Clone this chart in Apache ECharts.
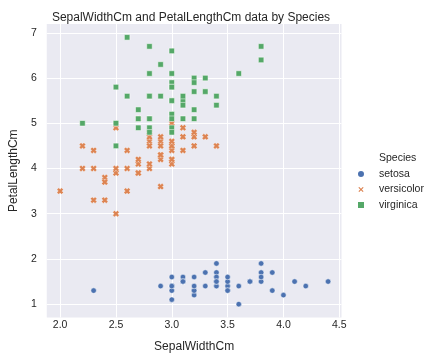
<!DOCTYPE html>
<html><head><meta charset="utf-8">
<script src="https://cdn.jsdelivr.net/npm/echarts@6/dist/echarts.min.js"></script>
<style>html,body{margin:0;padding:0;background:#fff}#c{width:433px;height:360px}</style>
</head><body><div id="c"></div>
<script>
// [SepalWidthCm, PetalLengthCm]
const setosa = [[3.5,1.4],[3.0,1.4],[3.2,1.3],[3.1,1.5],[3.6,1.4],[3.9,1.7],[3.4,1.4],[3.4,1.5],[2.9,1.4],[3.1,1.5],
[3.7,1.5],[3.4,1.6],[3.0,1.4],[3.0,1.1],[4.0,1.2],[4.4,1.5],[3.9,1.3],[3.5,1.4],[3.8,1.7],[3.8,1.5],
[3.4,1.7],[3.7,1.5],[3.6,1.0],[3.3,1.7],[3.4,1.9],[3.0,1.6],[3.4,1.6],[3.5,1.5],[3.4,1.4],[3.2,1.6],
[3.1,1.6],[3.4,1.5],[4.1,1.5],[4.2,1.4],[3.1,1.5],[3.2,1.2],[3.5,1.3],[3.1,1.5],[3.0,1.3],[3.4,1.5],
[3.5,1.3],[2.3,1.3],[3.2,1.3],[3.5,1.6],[3.8,1.9],[3.0,1.4],[3.8,1.6],[3.2,1.4],[3.7,1.5],[3.3,1.4]];
const versicolor = [[3.2,4.7],[3.2,4.5],[3.1,4.9],[2.3,4.0],[2.8,4.6],[2.8,4.5],[3.3,4.7],[2.4,3.3],[2.9,4.6],[2.7,3.9],
[2.0,3.5],[3.0,4.2],[2.2,4.0],[2.9,4.7],[2.9,3.6],[3.1,4.4],[3.0,4.5],[2.7,4.1],[2.2,4.5],[2.5,3.9],
[3.2,4.8],[2.8,4.0],[2.5,4.9],[2.8,4.7],[2.9,4.3],[3.0,4.4],[2.8,4.8],[3.0,5.0],[2.9,4.5],[2.6,3.5],
[2.4,3.8],[2.4,3.7],[2.7,3.9],[2.7,5.1],[3.0,4.5],[3.4,4.5],[3.1,4.7],[2.3,4.4],[3.0,4.1],[2.5,4.0],
[2.6,4.4],[3.0,4.6],[2.6,4.0],[2.3,3.3],[2.7,4.2],[3.0,4.2],[2.9,4.2],[2.9,4.3],[2.5,3.0],[2.8,4.1]];
const virginica = [[3.3,6.0],[2.7,5.1],[3.0,5.9],[2.9,5.6],[3.0,5.8],[3.0,6.6],[2.5,4.5],[2.9,6.3],[2.5,5.8],[3.6,6.1],
[3.2,5.1],[2.7,5.3],[3.0,5.5],[2.5,5.0],[2.8,5.1],[3.2,5.3],[3.0,5.5],[3.8,6.7],[2.6,6.9],[2.2,5.0],
[3.2,5.7],[2.8,4.9],[2.8,6.7],[2.7,4.9],[3.3,5.7],[3.2,6.0],[2.8,4.8],[3.0,4.9],[2.8,5.6],[3.0,5.8],
[2.8,6.1],[3.8,6.4],[2.8,5.6],[2.8,5.1],[2.6,5.6],[3.0,6.1],[3.4,5.6],[3.1,5.5],[3.0,4.8],[3.1,5.4],
[3.1,5.6],[3.1,5.1],[2.7,5.1],[3.2,5.9],[3.3,5.7],[3.0,5.2],[2.5,5.0],[3.0,5.2],[3.4,5.4],[3.0,5.1]];
const xTicks = [2.0, 2.5, 3.0, 3.5, 4.0, 4.5];
const yTicks = [1, 2, 3, 4, 5, 6, 7];

const FONT = '"Liberation Sans", Arial, sans-serif';
const X_PATH = 'path://M2.8,0 L5,2.2 L7.2,0 L10,2.8 L7.8,5 L10,7.2 L7.2,10 L5,7.8 L2.8,10 L0,7.2 L2.2,5 L0,2.8 Z';
const chart = echarts.init(document.getElementById('c'), null, {renderer: 'canvas'});
const labelStyle = {color: '#262626', fontSize: 10.5, fontFamily: FONT};
chart.setOption({
  backgroundColor: '#fff',
  animation: false,
  title: [
    {text: 'SepalWidthCm and PetalLengthCm data by Species', left: 186, textAlign: 'center', top: 7,
     textStyle: {color: '#262626', fontSize: 12, fontWeight: 'normal', fontFamily: FONT}},
    {text: 'Species', left: 374, top: 148,
     textStyle: {color: '#262626', fontSize: 10.5, fontWeight: 'normal', fontFamily: FONT}}
  ],
  legend: {
    orient: 'vertical', left: 351, top: 163, itemGap: 3.5, itemWidth: 8, itemHeight: 8,
    textStyle: Object.assign({lineHeight: 12, padding: [0, 0, 0, 9]}, labelStyle),
    data: [
      {name: 'setosa', icon: 'circle'},
      {name: 'versicolor', icon: X_PATH},
      {name: 'virginica', icon: 'rect'}
    ]
  },
  grid: {left: 41, right: 91.5, top: 24, bottom: 42.5, show: true, backgroundColor: '#eaeaf2', borderWidth: 0},
  xAxis: {
    type: 'value', min: 1.88, max: 4.52,
    name: 'SepalWidthCm', nameLocation: 'middle', nameGap: 23,
    nameTextStyle: {color: '#262626', fontSize: 12, fontFamily: FONT},
    axisLine: {show: false},
    axisTick: {show: false, customValues: xTicks},
    axisLabel: Object.assign({customValues: xTicks, margin: 2, formatter: v => v.toFixed(1)}, labelStyle),
    splitLine: {show: true, lineStyle: {color: '#fff', width: 1}}
  },
  yAxis: {
    type: 'value', min: 0.705, max: 7.195,
    name: 'PetalLengthCm', nameLocation: 'middle', nameGap: 21,
    nameTextStyle: {color: '#262626', fontSize: 12, fontFamily: FONT},
    axisLine: {show: false},
    axisTick: {show: false, customValues: yTicks},
    axisLabel: Object.assign({customValues: yTicks, margin: 10}, labelStyle),
    splitLine: {show: true, lineStyle: {color: '#fff', width: 1}}
  },
  series: [
    {name: 'setosa', type: 'scatter', data: setosa, symbol: 'circle', symbolSize: 5.5,
     itemStyle: {color: '#4c72b0', borderColor: '#fff', borderWidth: 0.5, opacity: 1}},
    {name: 'versicolor', type: 'scatter', data: versicolor, symbol: X_PATH, symbolSize: 6.5,
     itemStyle: {color: '#dd8452', borderColor: '#fff', borderWidth: 0.3, opacity: 1}},
    {name: 'virginica', type: 'scatter', data: virginica, symbol: 'rect', symbolSize: 5.5,
     itemStyle: {color: '#55a868', borderColor: '#fff', borderWidth: 0.5, opacity: 1}}
  ]
});
</script></body></html>
